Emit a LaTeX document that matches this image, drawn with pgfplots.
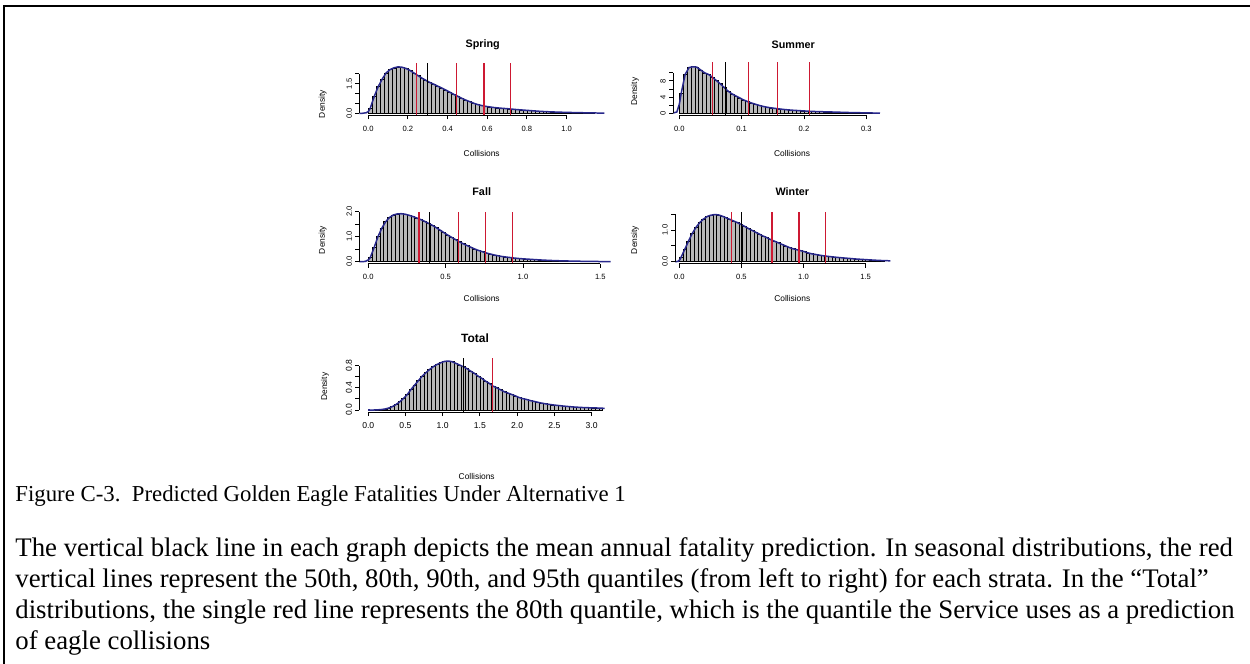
\documentclass[border=0pt]{standalone}
\usepackage{fontspec}
\setmainfont{Liberation Serif}
\newfontfamily\rsans{Liberation Sans}
\usepackage{pgfplots}
\pgfplotsset{compat=1.18}
\usepackage{pgfplotstable}

\definecolor{qred}{RGB}{205,25,50}
\definecolor{dcurve}{RGB}{40,40,140}
\definecolor{hfill}{RGB}{185,185,185}

\newcommand{\tfont}{\rsans\fontsize{3.8}{4}\selectfont}
\newcommand{\lfont}{\rsans\fontsize{4.2}{5}\selectfont}
\newcommand{\hfont}{\rsans\bfseries\fontsize{5.4}{6}\selectfont}

\pgfplotstableread{
x y
0.00 0.25
0.02 0.85
0.04 1.35
0.06 1.73
0.08 2.05
0.10 2.22
0.12 2.31
0.14 2.36
0.16 2.34
0.18 2.28
0.20 2.18
0.22 2.05
0.24 1.92
0.26 1.79
0.28 1.68
0.30 1.57
0.32 1.48
0.34 1.38
0.36 1.29
0.38 1.19
0.40 1.08
0.42 0.97
0.44 0.87
0.46 0.77
0.48 0.68
0.50 0.60
0.52 0.52
0.54 0.45
0.56 0.40
0.58 0.36
0.60 0.33
0.62 0.30
0.64 0.28
0.66 0.26
0.68 0.245
0.70 0.23
0.72 0.21
0.74 0.19
0.76 0.175
0.78 0.16
0.80 0.145
0.82 0.13
0.84 0.115
0.86 0.10
0.88 0.09
0.90 0.08
0.92 0.072
0.94 0.065
0.96 0.058
0.98 0.052
1.00 0.047
1.02 0.042
1.04 0.037
1.06 0.033
1.08 0.029
1.10 0.025
1.12 0.021
1.14 0.018
}\spring

\pgfplotstableread{
x y
0.00000 5.0
0.00625 9.6
0.01250 11.3
0.01875 11.5
0.02500 11.4
0.03125 10.7
0.03750 10.0
0.04375 9.6
0.05000 8.9
0.05625 8.1
0.06250 7.3
0.06875 6.4
0.07500 5.5
0.08125 4.8
0.08750 4.3
0.09375 3.8
0.10000 3.3
0.10625 2.9
0.11250 2.55
0.11875 2.25
0.12500 1.95
0.13125 1.7
0.13750 1.5
0.14375 1.35
0.15000 1.22
0.15625 1.1
0.16250 0.98
0.16875 0.88
0.17500 0.8
0.18125 0.73
0.18750 0.67
0.19375 0.61
0.20000 0.55
0.20625 0.5
0.21250 0.45
0.21875 0.42
0.22500 0.39
0.23125 0.36
0.23750 0.34
0.24375 0.31
0.25000 0.28
0.25625 0.25
0.26250 0.22
0.26875 0.19
0.27500 0.17
0.28125 0.15
0.28750 0.13
0.29375 0.11
0.30000 0.09
0.30625 0.07
0.31250 0.06
}\summer

\pgfplotstableread{
x y
0.000 0.16
0.025 0.56
0.050 1.0
0.075 1.34
0.100 1.6
0.125 1.77
0.150 1.87
0.175 1.91
0.200 1.92
0.225 1.9
0.250 1.86
0.275 1.81
0.300 1.75
0.325 1.69
0.350 1.62
0.375 1.54
0.400 1.46
0.425 1.37
0.450 1.27
0.475 1.17
0.500 1.07
0.525 0.98
0.550 0.89
0.575 0.8
0.600 0.72
0.625 0.65
0.650 0.58
0.675 0.51
0.700 0.45
0.725 0.4
0.750 0.35
0.775 0.31
0.800 0.27
0.825 0.24
0.850 0.21
0.875 0.19
0.900 0.17
0.925 0.15
0.950 0.135
0.975 0.12
1.000 0.11
1.025 0.1
1.050 0.09
1.075 0.08
1.100 0.07
1.125 0.062
1.150 0.055
1.175 0.048
1.200 0.042
1.225 0.037
1.250 0.033
1.275 0.029
1.300 0.025
1.325 0.022
1.350 0.019
1.375 0.016
1.400 0.014
1.425 0.012
1.450 0.01
1.475 0.008
1.500 0.007
}\fall

\pgfplotstableread{
x y
0.00 0.15
0.03 0.4
0.06 0.66
0.09 0.9
0.12 1.09
0.15 1.24
0.18 1.35
0.21 1.43
0.24 1.47
0.27 1.49
0.30 1.48
0.33 1.44
0.36 1.39
0.39 1.34
0.42 1.29
0.45 1.24
0.48 1.18
0.51 1.12
0.54 1.05
0.57 0.99
0.60 0.93
0.63 0.87
0.66 0.81
0.69 0.76
0.72 0.7
0.75 0.65
0.78 0.6
0.81 0.55
0.84 0.5
0.87 0.45
0.90 0.41
0.93 0.38
0.96 0.35
0.99 0.32
1.02 0.28
1.05 0.25
1.08 0.23
1.11 0.21
1.14 0.19
1.17 0.175
1.20 0.16
1.23 0.148
1.26 0.135
1.29 0.125
1.32 0.115
1.35 0.105
1.38 0.095
1.41 0.085
1.44 0.077
1.47 0.07
1.50 0.062
1.53 0.055
1.56 0.048
1.59 0.042
1.62 0.036
1.65 0.032
}\winter

\pgfplotstableread{
x y
0.00 0.0
0.05 0.0
0.10 0.003
0.15 0.008
0.20 0.018
0.25 0.035
0.30 0.062
0.35 0.1
0.40 0.15
0.45 0.21
0.50 0.28
0.55 0.37
0.60 0.45
0.65 0.53
0.70 0.61
0.75 0.67
0.80 0.73
0.85 0.78
0.90 0.82
0.95 0.85
1.00 0.875
1.05 0.88
1.10 0.87
1.15 0.84
1.20 0.81
1.25 0.78
1.30 0.745
1.35 0.7
1.40 0.66
1.45 0.61
1.50 0.57
1.55 0.52
1.60 0.48
1.65 0.43
1.70 0.4
1.75 0.365
1.80 0.33
1.85 0.305
1.90 0.28
1.95 0.255
2.00 0.225
2.05 0.205
2.10 0.19
2.15 0.17
2.20 0.155
2.25 0.14
2.30 0.125
2.35 0.113
2.40 0.102
2.45 0.093
2.50 0.085
2.55 0.078
2.60 0.07
2.65 0.064
2.70 0.058
2.75 0.053
2.80 0.049
2.85 0.045
2.90 0.042
2.95 0.04
3.00 0.038
3.05 0.036
3.10 0.033
3.15 0.03
}\total

\pgfplotsset{
  rhist/.style={
    scale only axis, anchor=south west, clip mode=individual,
    axis x line*=bottom, axis y line*=left,
    axis line style={draw=none},
    tick align=outside, major tick length=2pt,
    tick style={black, line width=0.45pt},
    xticklabel style={font=\tfont, inner sep=0pt, anchor=north},
    yticklabel style={font=\tfont, inner sep=0pt, rotate=90, anchor=south},
    xticklabel shift=3pt, yticklabel shift=1.5pt,
    scaled ticks=false,
  },
  hbar/.style={ybar interval, fill=hfill, draw=black, line width=0.3pt},
  dline/.style={dcurve, line width=0.75pt},
  qline/.style={qred, line width=0.62pt},
  mline/.style={black, line width=0.55pt},
}

\begin{document}
\begin{tikzpicture}
\useasboundingbox (0,0) rectangle (625pt,-332pt);
\draw[line width=0.55pt] (2pt,-332pt) -- (2pt,-3pt) -- (625pt,-3pt);

% ---------------- Spring
\begin{axis}[rhist, at={(179.65pt,-57.65pt)}, width=122.5pt, height=26.15pt,
  xmin=-0.045, xmax=1.19, ymin=-0.099, ymax=2.555,
  xtick={0,0.2,0.4,0.6,0.8,1.0}, xticklabels={0.0,0.2,0.4,0.6,0.8,1.0},
  ytick={0,0.5,1,1.5,2}, yticklabels={0.0,,,1.5,}]
\addplot[hbar] table {\spring};
\addplot[dline] table[x expr=\thisrow{x}+0.01, y=y] {\spring};
\addplot[dline] coordinates {(-0.06,0) (-0.03,0.003) (-0.01,0.03) (0,0.09) (0.01,0.25)};
\addplot[dline] coordinates {(1.15,0.018) (1.19,0.012)};
\addplot[qline] coordinates {(0.242,-0.099) (0.242,2.555)};
\addplot[mline] coordinates {(0.299,-0.099) (0.299,2.555)};
\addplot[qline] coordinates {(0.445,-0.099) (0.445,2.555)};
\addplot[qline] coordinates {(0.583,-0.099) (0.583,2.555)};
\addplot[qline] coordinates {(0.719,-0.099) (0.719,2.555)};
\draw[line width=0.45pt] (axis cs:0,-0.099) -- (axis cs:1,-0.099);
\draw[line width=0.45pt] (axis cs:-0.045,0) -- (axis cs:-0.045,2);
\end{axis}

% ---------------- Summer
\begin{axis}[rhist, at={(336.5pt,-57.65pt)}, width=103.5pt, height=26.5pt,
  xmin=-0.0101, xmax=0.322, ymin=-0.5, ymax=12.6,
  xtick={0,0.1,0.2,0.3}, xticklabels={0.0,0.1,0.2,0.3},
  ytick={0,2,4,6,8,10}, yticklabels={0,,4,,8,}]
\addplot[hbar] table {\summer};
\addplot[dline] table[x expr=\thisrow{x}+0.003125, y=y] {\summer};
\addplot[dline] coordinates {(-0.012,0) (-0.004,0.3) (0,2.2) (0.003125,5.0)};
\addplot[dline] coordinates {(0.315625,0.06) (0.322,0.04)};
\addplot[qline] coordinates {(0.0535,-0.5) (0.0535,12.6)};
\addplot[mline] coordinates {(0.0738,-0.5) (0.0738,12.6)};
\addplot[qline] coordinates {(0.1107,-0.5) (0.1107,12.6)};
\addplot[qline] coordinates {(0.1578,-0.5) (0.1578,12.6)};
\addplot[qline] coordinates {(0.2086,-0.5) (0.2086,12.6)};
\draw[line width=0.45pt] (axis cs:0,-0.5) -- (axis cs:0.3,-0.5);
\draw[line width=0.45pt] (axis cs:-0.0101,0) -- (axis cs:-0.0101,10);
\end{axis}

% ---------------- Fall
\begin{axis}[rhist, at={(179.65pt,-131.85pt)}, width=125.6pt, height=26pt,
  xmin=-0.058, xmax=1.566, ymin=-0.08, ymax=2.0,
  xtick={0,0.5,1.0,1.5}, xticklabels={0.0,0.5,1.0,1.5},
  ytick={0,0.5,1,1.5,2}, yticklabels={0.0,,1.0,,2.0}]
\addplot[hbar] table {\fall};
\addplot[dline] table[x expr=\thisrow{x}+0.0125, y=y] {\fall};
\addplot[dline] coordinates {(-0.058,0) (-0.02,0.01) (0,0.07) (0.0125,0.16)};
\addplot[dline] coordinates {(1.5125,0.007) (1.566,0.005)};
\addplot[qline] coordinates {(0.328,-0.08) (0.328,2.0)};
\addplot[mline] coordinates {(0.395,-0.08) (0.395,2.0)};
\addplot[qline] coordinates {(0.581,-0.08) (0.581,2.0)};
\addplot[qline] coordinates {(0.758,-0.08) (0.758,2.0)};
\addplot[qline] coordinates {(0.931,-0.08) (0.931,2.0)};
\draw[line width=0.45pt] (axis cs:0,-0.08) -- (axis cs:1.5,-0.08);
\draw[line width=0.45pt] (axis cs:-0.058,0) -- (axis cs:-0.058,2);
\end{axis}

% ---------------- Winter
\begin{axis}[rhist, at={(337.5pt,-131.8pt)}, width=107.7pt, height=25.95pt,
  xmin=-0.035, xmax=1.7, ymin=-0.06, ymax=1.58,
  xtick={0,0.5,1.0,1.5}, xticklabels={0.0,0.5,1.0,1.5},
  ytick={0,0.5,1,1.5}, yticklabels={0.0,,1.0,}]
\addplot[hbar] table {\winter};
\addplot[dline] table[x expr=\thisrow{x}+0.015, y=y] {\winter};
\addplot[dline] coordinates {(-0.035,0) (-0.01,0.01) (0.005,0.07) (0.015,0.15)};
\addplot[dline] coordinates {(1.665,0.032) (1.7,0.028)};
\addplot[qline] coordinates {(0.421,-0.06) (0.421,1.58)};
\addplot[mline] coordinates {(0.502,-0.06) (0.502,1.58)};
\addplot[qline] coordinates {(0.746,-0.06) (0.746,1.58)};
\addplot[qline] coordinates {(0.963,-0.06) (0.963,1.58)};
\addplot[qline] coordinates {(1.178,-0.06) (1.178,1.58)};
\draw[line width=0.45pt] (axis cs:0,-0.06) -- (axis cs:1.5,-0.06);
\draw[line width=0.45pt] (axis cs:-0.035,0) -- (axis cs:-0.035,1.5);
\end{axis}

% ---------------- Total
\begin{axis}[rhist, at={(179.65pt,-206pt)}, width=122.85pt, height=26.85pt,
  xmin=-0.12, xmax=3.18, ymin=-0.036, ymax=0.93,
  xtick={0,0.5,1.0,1.5,2.0,2.5,3.0}, xticklabels={0.0,0.5,1.0,1.5,2.0,2.5,3.0},
  ytick={0,0.2,0.4,0.6,0.8}, yticklabels={0.0,,0.4,,0.8},
  xticklabel style={font=\rsans\fontsize{4.3}{5}\selectfont},
  yticklabel style={font=\rsans\fontsize{4.3}{5}\selectfont}]
\addplot[hbar] table {\total};
\addplot[dline] table[x expr=\thisrow{x}+0.025, y=y] {\total};
\addplot[dline] coordinates {(0,0) (0.025,0)};
\addplot[dline] coordinates {(3.175,0.03) (3.18,0.03)};
\addplot[mline] coordinates {(1.275,-0.036) (1.275,0.93)};
\addplot[qline] coordinates {(1.664,-0.036) (1.664,0.93)};
\draw[line width=0.45pt] (axis cs:0,-0.036) -- (axis cs:3,-0.036);
\draw[line width=0.45pt] (axis cs:-0.12,0) -- (axis cs:-0.12,0.8);
\end{axis}

% ---------------- texts (pixel coordinates)
\begin{scope}[x=0.5pt,y=-0.5pt]
\node[font=\hfont] at (482.7,45) {Spring};
\node[font=\hfont] at (793.3,45) {Summer};
\node[font=\hfont] at (481.7,191.7) {Fall};
\node[font=\hfont] at (792.3,191.7) {Winter};
\node[font=\rsans\bfseries\fontsize{6}{7}\selectfont] at (475,338.3) {Total};
\node[font=\lfont] at (481.7,153.3) {Collisions};
\node[font=\lfont] at (792,153.3) {Collisions};
\node[font=\lfont] at (481.7,298.3) {Collisions};
\node[font=\lfont] at (792.3,298.3) {Collisions};
\node[font=\lfont] at (476.7,476) {Collisions};
\node[font=\lfont, rotate=90] at (322.7,104) {Density};
\node[font=\lfont, rotate=90] at (635,91.7) {Density};
\node[font=\lfont, rotate=90] at (322.7,240) {Density};
\node[font=\lfont, rotate=90] at (635,240) {Density};
\node[font=\lfont, rotate=90] at (325,386.7) {Density};

\node[anchor=base west, inner sep=0pt, font=\fontsize{11.4}{13}\selectfont] at (15,501) {Figure C-3.\ \ Predicted Golden Eagle Fatalities Under Alternative 1};
\begin{scope}[every node/.style={anchor=base west, inner sep=0pt, font=\fontsize{13.4}{15.5}\selectfont}]
\node at (15,556) {The vertical black line in each graph depicts the mean annual fatality prediction. In seasonal distributions, the red};
\node at (15,587) {vertical lines represent the 50th, 80th, 90th, and 95th quantiles (from left to right) for each strata. In the “Total”};
\node at (15,618) {distributions, the single red line represents the 80th quantile, which is the quantile the Service uses as a prediction};
\node at (15,649) {of eagle collisions};
\end{scope}
\end{scope}
\end{tikzpicture}
\end{document}
